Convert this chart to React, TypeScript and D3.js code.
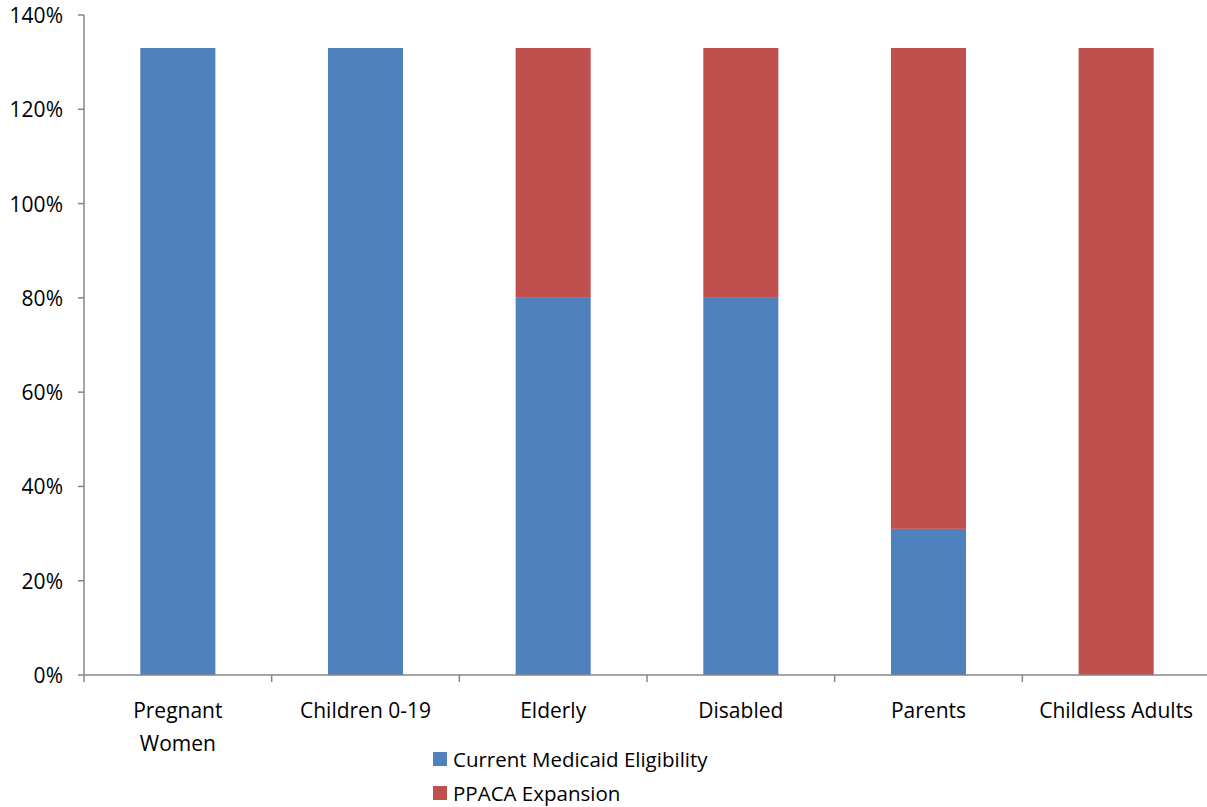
import React from "react";
import * as d3 from "d3";

const categories = ["Pregnant Women", "Children 0-19", "Elderly", "Disabled", "Parents", "Childless Adults"];
const currentEligibility = [133, 133, 80, 80, 31, 0];
const ppacaExpansion = [0, 0, 53, 53, 102, 133];
const yTicks = [0, 20, 40, 60, 80, 100, 120, 140];
const seriesNames = ["Current Medicaid Eligibility", "PPACA Expansion"];
const colors = ["#4F81BD", "#C0504D"];

const W = 1207, H = 807;
const left = 84, right = 1210, top = 15, bottom = 675;
const font = "Open Sans, sans-serif";
const fs = 21;

export default function App() {
  const x = d3.scaleBand<string>().domain(categories).range([left, right]).paddingInner(0.6).paddingOuter(0.3);
  const y = d3.scaleLinear().domain([0, 140]).range([bottom, top]);
  const step = (right - left) / categories.length;
  const data = categories.map((c, i) => ({ c, a: currentEligibility[i], b: ppacaExpansion[i] }));
  const stack = d3.stack<any>().keys(["a", "b"])(data);
  const labelLines: Record<string, string[]> = { "Pregnant Women": ["Pregnant", "Women"] };
  return (
    <svg width={W} height={H} style={{ position: "absolute", left: 0, top: 0 }} fontFamily={font}>
      <rect width={W} height={H} fill="#fff" />
      {stack.map((s, si) => (
        <g key={si} fill={colors[si]}>
          {s.map((d, i) => (
            d[1] - d[0] > 0 ? (
              <rect key={i} x={x(categories[i])} width={x.bandwidth()} y={y(d[1])} height={y(d[0]) - y(d[1])} />
            ) : null
          ))}
        </g>
      ))}
      <g stroke="#868686" strokeWidth={1.5}>
        <line x1={left} x2={left} y1={top} y2={bottom} />
        <line x1={left} x2={right} y1={bottom} y2={bottom} />
        {yTicks.map(t => <line key={t} x1={left - 6} x2={left} y1={y(t)} y2={y(t)} />)}
        {d3.range(categories.length + 1).map(i => (
          <line key={i} x1={left + i * step} x2={left + i * step} y1={bottom} y2={bottom + 7} />
        ))}
      </g>
      {yTicks.map(t => (
        <text key={t} x={63} y={y(t)} textAnchor="end" dominantBaseline="central" fontSize={fs} fill="#000">{t}%</text>
      ))}
      {categories.map(c => {
        const lines = labelLines[c] || [c];
        const cx = (x(c) as number) + x.bandwidth() / 2;
        return lines.map((l, j) => (
          <text key={c + j} x={cx} y={710 + j * 33} textAnchor="middle" dominantBaseline="central" fontSize={fs} fill="#000">{l}</text>
        ));
      })}
      {seriesNames.map((n, i) => (
        <g key={n} transform={`translate(433, ${759 + i * 34})`}>
          <rect x={0} y={-7} width={14} height={14} fill={colors[i]} />
          <text x={20} y={0} dominantBaseline="central" fontSize={fs - 0.5} fill="#000">{n}</text>
        </g>
      ))}
    </svg>
  );
}
